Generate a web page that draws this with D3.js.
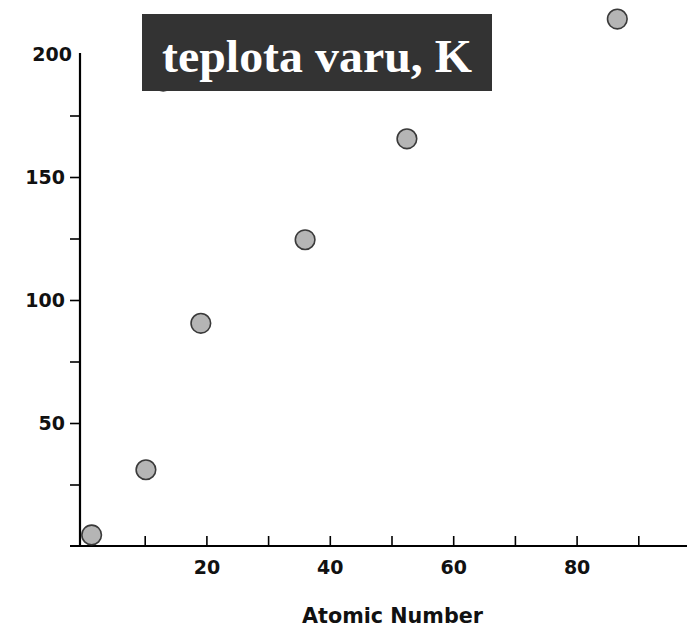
<!DOCTYPE html>
<html>
<head>
<meta charset="utf-8">
<script src="https://cdn.jsdelivr.net/npm/d3@7"></script>
<style>
  body { margin: 0; background: #fff; }
  svg { display: block; }
</style>
</head>
<body>
<div id="chart"></div>
<script>
// values
var atomicNumber = [1.4, 10.2, 19.1, 36, 52.5, 86.6, 13];
var boilingPoint = [4.5, 31, 90.5, 124.5, 165.5, 214.2, 189];
var xTicks = [10, 20, 30, 40, 50, 60, 70, 80, 90];
var xLabels = [20, 40, 60, 80];
var yTicks = [25, 50, 75, 100, 125, 150, 175, 200];
var yLabels = [50, 100, 150, 200];
var titleText = "teplota varu, K";
var xTitle = "Atomic Number";

var width = 687, height = 627;

var svg = d3.select("#chart").append("svg")
    .attr("width", width)
    .attr("height", height);

var x = d3.scaleLinear().domain([0, 100]).range([83, 700]);
var y = d3.scaleLinear().domain([0, 200]).range([546, 54]);

var font = "'DejaVu Sans', sans-serif";

// x axis
var x_axis = d3.axisBottom(x)
    .tickValues(xTicks)
    .tickSize(-10)
    .tickPadding(15)
    .tickFormat(function(d){ return xLabels.indexOf(d) >= 0 ? d : ""; });

var gx = svg.append("g")
    .attr("class", "x axis")
    .attr("transform", "translate(0," + y(0) + ")")
    .call(x_axis);
gx.select(".domain").remove();
gx.append("line")
    .attr("x1", 70).attr("x2", width)
    .attr("stroke", "#000").attr("stroke-width", 2.2);
gx.selectAll(".tick line").attr("stroke", "#000").attr("stroke-width", 1.6);
gx.selectAll(".tick text")
    .attr("fill", "#111")
    .style("font-family", font)
    .style("font-weight", "bold")
    .style("font-size", "19px");

// y axis
var y_axis = d3.axisLeft(y)
    .tickValues(yTicks)
    .tickSize(10)
    .tickPadding(5)
    .tickFormat(function(d){ return yLabels.indexOf(d) >= 0 ? d : ""; });

var gy = svg.append("g")
    .attr("class", "y axis")
    .attr("transform", "translate(80,0)")
    .call(y_axis);
gy.select(".domain").remove();
gy.append("line")
    .attr("y1", y(200) - 1).attr("y2", y(0) + 1)
    .attr("stroke", "#000").attr("stroke-width", 2.2);
gy.selectAll(".tick line").attr("stroke", "#000").attr("stroke-width", 1.6);
gy.selectAll(".tick text")
    .attr("fill", "#111")
    .style("font-family", font)
    .style("font-weight", "bold")
    .style("font-size", "19px");
// top tick has no mark, label sits closer to the axis
gy.selectAll(".tick").filter(function(d){ return d === 200; })
    .each(function(){
        d3.select(this).select("line").remove();
        d3.select(this).select("text").attr("x", -8);
    });

// axis title
svg.append("text")
    .attr("x", 302)
    .attr("y", 623)
    .attr("textLength", 181)
    .attr("lengthAdjust", "spacingAndGlyphs")
    .style("font-family", font)
    .style("font-weight", "bold")
    .style("font-size", "21px")
    .attr("fill", "#111")
    .text(xTitle);

// points
svg.selectAll("circle")
    .data(atomicNumber.map(function(d, i){ return {x: d, y: boilingPoint[i]}; }))
    .enter().append("circle")
    .attr("cx", function(d){ return x(d.x); })
    .attr("cy", function(d){ return y(d.y); })
    .attr("r", 9.8)
    .attr("fill", "#b5b5b5")
    .attr("stroke", "#3a3a3a")
    .attr("stroke-width", 1.6);

// title box
svg.append("rect")
    .attr("x", 142).attr("y", 14)
    .attr("width", 350).attr("height", 77)
    .attr("fill", "#333333");

svg.append("text")
    .attr("x", 162)
    .attr("y", 72)
    .attr("textLength", 310)
    .attr("lengthAdjust", "spacingAndGlyphs")
    .style("font-family", "'Liberation Serif', 'Times New Roman', serif")
    .style("font-weight", "bold")
    .style("font-size", "46px")
    .attr("fill", "#fff")
    .text(titleText);
</script>
</body>
</html>
